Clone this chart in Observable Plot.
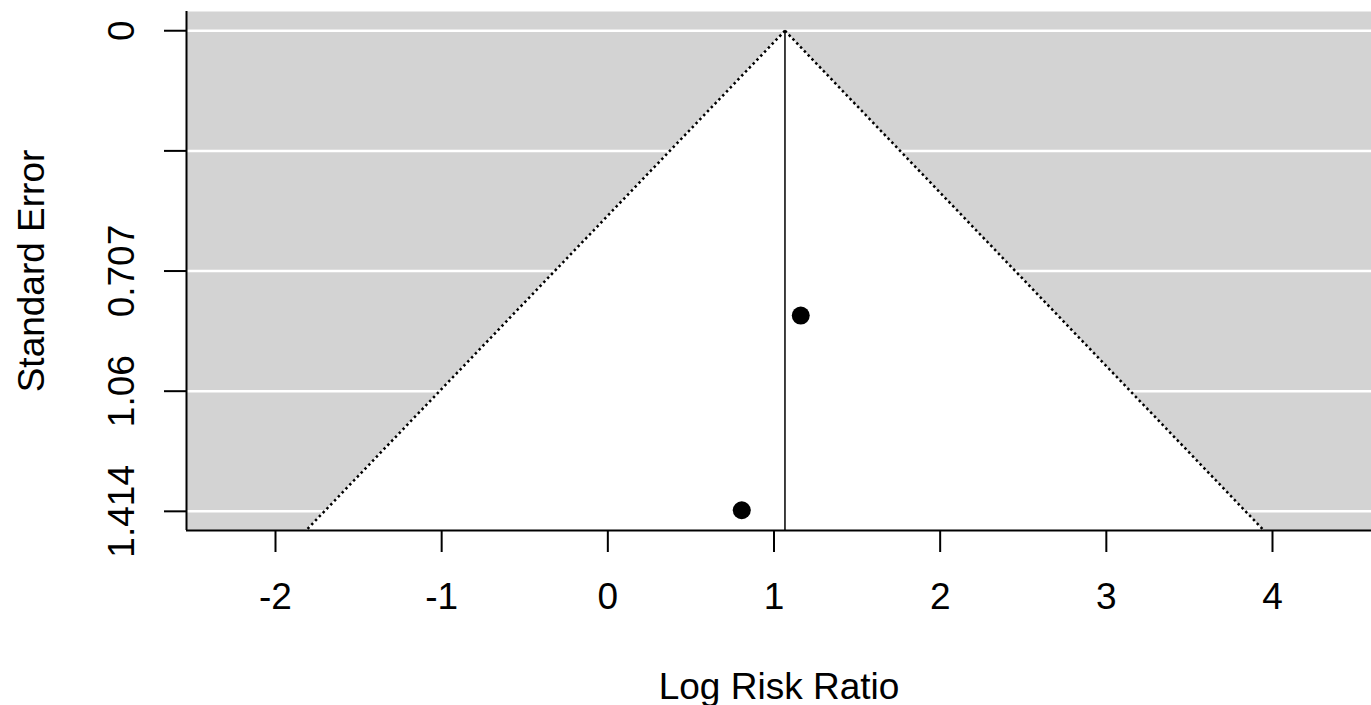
<!DOCTYPE html>
<html>
<head>
<meta charset="utf-8">
<script src="https://cdn.jsdelivr.net/npm/d3@7"></script>
<script src="https://cdn.jsdelivr.net/npm/@observablehq/plot@0.6"></script>
<style>
  html, body { margin: 0; padding: 0; background: #ffffff; }
  #chart { width: 1371px; height: 705px; }
</style>
</head>
<body>
<div id="chart"></div>
<script>
// Study data (log risk ratio, standard error)
const studyYi = [1.161, 0.806];
const studySe = [0.838, 1.411];

// Summary estimate and funnel settings
const estimate = 1.066;
const zCrit = 1.96;
const funnelSe = [0, 1.4706];

// Axis ticks and labels
const xTicks = [-2, -1, 0, 1, 2, 3, 4];
const yTicks = [0, 0.35355, 0.70711, 1.06066, 1.41421];
const yTickLabels = ["0", "", "0.707", "1.06", "1.414"];

const xDomain = [-2.5356, 4.5958];
const yDomain = [-0.0566, 1.4706];

const xTitle = "Log Risk Ratio";
const yTitle = "Standard Error";

const studies = studyYi.map((yi, i) => ({yi, se: studySe[i]}));
const funnel = funnelSe.map(se => ({se, lo: estimate - zCrit * se, hi: estimate + zCrit * se}));

const FONT = "'Liberation Sans', Arial, sans-serif";
const FS = 37;

const chart = Plot.plot({
  width: 1371,
  height: 705,
  marginLeft: 186,
  marginRight: 0,
  marginTop: 11,
  marginBottom: 175,
  style: {fontFamily: FONT, background: "#ffffff", color: "#000000"},
  x: {domain: xDomain, range: [186, 1371]},
  y: {domain: yDomain, range: [11, 530]},
  marks: [
    Plot.frame({fill: "#d3d3d3", stroke: null}),
    Plot.ruleY(yTicks, {stroke: "#ffffff", strokeWidth: 2.5}),
    Plot.areaX(funnel, {y: "se", x1: "lo", x2: "hi", fill: "#ffffff"}),
    Plot.line(funnel, {x: "lo", y: "se", stroke: "#000000", strokeWidth: 2.5, strokeDasharray: "2.5,3", strokeLinecap: "butt"}),
    Plot.line(funnel, {x: "hi", y: "se", stroke: "#000000", strokeWidth: 2.5, strokeDasharray: "2.5,3", strokeLinecap: "butt"}),
    Plot.ruleX([estimate], {y1: funnelSe[0], y2: funnelSe[1], stroke: "#000000", strokeWidth: 1.5}),
    Plot.dot(studies, {x: "yi", y: "se", r: 9, fill: "#000000", stroke: null}),
    Plot.ruleX([xDomain[0]], {stroke: "#000000", strokeWidth: 2}),
    Plot.ruleY([yDomain[1]], {stroke: "#000000", strokeWidth: 2}),
    Plot.axisX({
      ticks: xTicks,
      tickFormat: d => String(d),
      tickSize: 22,
      tickPadding: 30,
      fontSize: FS,
      strokeWidth: 2,
      label: null
    }),
    Plot.axisY({
      ticks: yTicks,
      tickFormat: (d, i) => yTickLabels[i],
      tickSize: 22,
      tickPadding: 31,
      tickRotate: -90,
      textAnchor: "middle",
      lineAnchor: "bottom",
      fontSize: FS,
      strokeWidth: 2,
      label: null
    }),
    Plot.text([xTitle], {frameAnchor: "bottom", dy: 168, lineAnchor: "bottom", fontSize: FS, fill: "#000000"}),
    Plot.text([yTitle], {frameAnchor: "left", dx: -143, rotate: -90, lineAnchor: "bottom", textAnchor: "middle", fontSize: FS, fill: "#000000"})
  ]
});

document.getElementById("chart").appendChild(chart);
</script>
</body>
</html>
